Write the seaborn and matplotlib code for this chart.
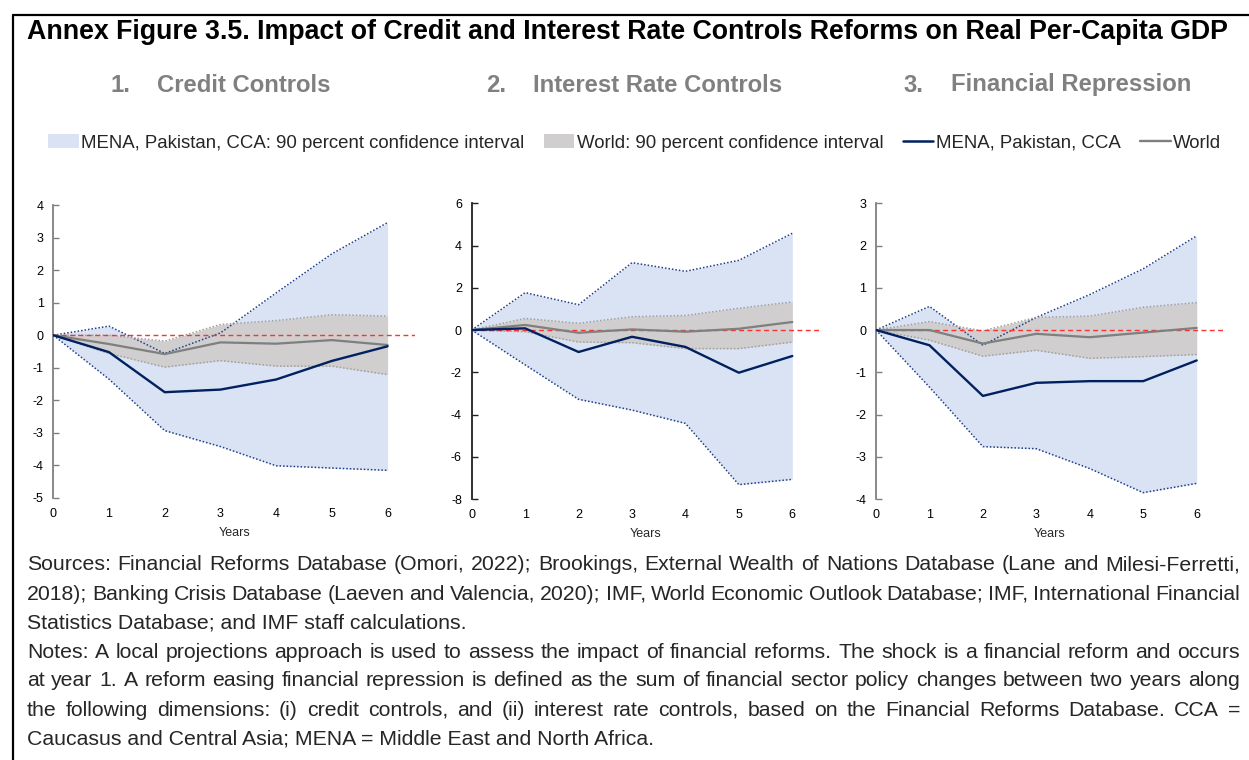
import numpy as np
import pandas as pd
import matplotlib
matplotlib.use("Agg")
import matplotlib.pyplot as plt
from matplotlib.lines import Line2D
from matplotlib.patches import Patch
import seaborn as sns

# ---------------- data ----------------
years = [0, 1, 2, 3, 4, 5, 6]

# 1. Credit controls
credit_mena = [0, -0.52, -1.75, -1.67, -1.36, -0.79, -0.34]
credit_mena_hi = [0, 0.28, -0.56, 0.07, 1.30, 2.50, 3.46]
credit_mena_lo = [0, -1.35, -2.93, -3.42, -4.01, -4.08, -4.15]
credit_world = [0, -0.27, -0.58, -0.22, -0.26, -0.15, -0.30]
credit_world_hi = [0, 0.00, -0.18, 0.33, 0.45, 0.63, 0.59]
credit_world_lo = [0, -0.56, -0.98, -0.78, -0.95, -0.95, -1.21]

# 2. Interest rate controls
rate_mena = [0, 0.08, -1.04, -0.32, -0.80, -2.02, -1.23]
rate_mena_hi = [0, 1.77, 1.20, 3.19, 2.78, 3.30, 4.58]
rate_mena_lo = [0, -1.65, -3.28, -3.79, -4.42, -7.32, -7.07]
rate_world = [0, 0.24, -0.13, 0.03, -0.08, 0.06, 0.38]
rate_world_hi = [0, 0.55, 0.32, 0.63, 0.69, 1.03, 1.33]
rate_world_lo = [0, -0.08, -0.57, -0.60, -0.88, -0.88, -0.57]

# 3. Financial repression
repr_mena = [0, -0.36, -1.56, -1.25, -1.21, -1.21, -0.72]
repr_mena_hi = [0, 0.56, -0.36, 0.30, 0.84, 1.45, 2.23]
repr_mena_lo = [0, -1.35, -2.76, -2.81, -3.28, -3.85, -3.63]
repr_world = [0, 0.00, -0.32, -0.09, -0.17, -0.06, 0.05]
repr_world_hi = [0, 0.20, -0.02, 0.30, 0.33, 0.54, 0.65]
repr_world_lo = [0, -0.24, -0.62, -0.48, -0.67, -0.63, -0.58]

panel_numbers = ["1.", "2.", "3."]
panel_titles = ["Credit Controls", "Interest Rate Controls", "Financial Repression"]
y_limits = [(-5, 4), (-8, 6), (-4, 3)]
y_steps = [1, 2, 1]

legend_labels = ["MENA, Pakistan, CCA: 90 percent confidence interval",
                 "World: 90 percent confidence interval",
                 "MENA, Pakistan, CCA", "World"]

title_text = ("Annex Figure 3.5. Impact of Credit and Interest Rate Controls "
              "Reforms on Real Per-Capita GDP")

note_lines = [
    ("Sources: Financial Reforms Database (Omori, 2022); Brookings, External Wealth of "
     "Nations Database (Lane and Milesi-Ferretti,", True),
    ("2018); Banking Crisis Database (Laeven and Valencia, 2020); IMF, World Economic "
     "Outlook Database; IMF, International Financial", True),
    ("Statistics Database; and IMF staff calculations.", False),
    ("Notes: A local projections approach is used to assess the impact of financial "
     "reforms. The shock is a financial reform and occurs", True),
    ("at year 1. A reform easing financial repression is defined as the sum of financial "
     "sector policy changes between two years along", True),
    ("the following dimensions: (i) credit controls, and (ii) interest rate controls, "
     "based on the Financial Reforms Database. CCA =", True),
    ("Caucasus and Central Asia; MENA = Middle East and North Africa.", False),
]

# ---------------- style ----------------
sns.set_theme(style="white")
plt.rcParams["font.family"] = ["Liberation Sans", "DejaVu Sans"]

NAVY = "#002060"
NAVY_DOT = "#1F3F8A"
GRAY_LINE = "#7F7F7F"
GRAY_DOT = "#A0A0A0"
BLUE_FILL = "#DAE3F3"
GRAY_FILL = "#D0CECE"
SUBTITLE_GRAY = "#808080"

W, H = 1249, 760
fig = plt.figure(figsize=(W / 100, H / 100), dpi=100)
renderer = fig.canvas.get_renderer()


def fx(px):
    return px / W


def fy(py):
    return 1 - py / H


def fit_width(text_artist, target_px):
    """Scale a text's font size so that it spans target_px pixels."""
    size = text_artist.get_fontsize()
    width = text_artist.get_window_extent(renderer).width
    text_artist.set_fontsize(size * target_px / width)
    return text_artist.get_fontsize()


# axes boxes in pixels: left, top, right, bottom
boxes = [(53.3, 205.0, 415.4, 498.0),
         (471.7, 203.3, 819.0, 499.0),
         (876.0, 203.3, 1223.4, 499.0)]

series = [
    (credit_mena, credit_mena_lo, credit_mena_hi, credit_world, credit_world_lo, credit_world_hi),
    (rate_mena, rate_mena_lo, rate_mena_hi, rate_world, rate_world_lo, rate_world_hi),
    (repr_mena, repr_mena_lo, repr_mena_hi, repr_world, repr_world_lo, repr_world_hi),
]
spine_colors = ["#808080", "#202020", "#808080"]

for i, (box, data) in enumerate(zip(boxes, series)):
    l, t, r, b = box
    ax = fig.add_axes([fx(l), fy(b), fx(r - l), (b - t) / H])
    mena, mena_lo, mena_hi, world, world_lo, world_hi = data
    df = pd.DataFrame({"year": years, "mena": mena, "world": world})

    ax.fill_between(years, mena_lo, mena_hi, color=BLUE_FILL, lw=0, zorder=1)
    ax.fill_between(years, world_lo, world_hi, color=GRAY_FILL, lw=0, zorder=2)
    for arr in (mena_lo, mena_hi):
        ax.plot(years, arr, color=NAVY_DOT, lw=1.1, ls=(0, (1, 1.3)), zorder=3)
    for arr in (world_lo, world_hi):
        ax.plot(years, arr, color=GRAY_DOT, lw=1.1, ls=(0, (1, 1.3)), zorder=3)
    ax.axhline(0, color="#FF3030", lw=1.0, ls=(0, (3.5, 2.5)), zorder=4)
    sns.lineplot(data=df, x="year", y="world", ax=ax, color=GRAY_LINE, lw=1.6, zorder=5)
    sns.lineplot(data=df, x="year", y="mena", ax=ax, color=NAVY, lw=1.7, zorder=6)

    lo, hi = y_limits[i]
    yt = np.arange(lo, hi + 0.01, y_steps[i])
    ax.set_xlim(0, 6.5)
    ax.set_ylim(lo, hi)
    ax.set_xticks(years)
    ax.set_yticks(yt)
    ax.set_xticklabels([str(v) for v in years])
    ax.set_yticklabels([str(int(v)) for v in yt])
    ax.tick_params(axis="x", length=0, pad=7, labelsize=9, colors="#000000")
    ax.tick_params(axis="y", direction="in", length=4, width=1, color=spine_colors[i],
                   pad=7, labelsize=9, labelcolor="#000000", left=True)
    for side in ("top", "right", "bottom"):
        ax.spines[side].set_visible(False)
    ax.spines["left"].set_color(spine_colors[i])
    ax.spines["left"].set_linewidth(1.3)
    ax.set_xlabel("Years", fontsize=9, labelpad=5)
    ax.set_ylabel("")
    ax.patch.set_alpha(0)

# ---------------- titles ----------------
title = fig.text(fx(27), fy(32), title_text, fontsize=12, fontweight="bold",
                 ha="left", va="center", color="#000000")
fit_width(title, 1198)

sub_pos = [(110, 157), (486, 533), (903, 951)]
for (xn, xt), num, ttl in zip(sub_pos, panel_numbers, panel_titles):
    fig.text(fx(xn), fy(85), num, fontsize=17.2, fontweight="bold",
             color=SUBTITLE_GRAY, ha="left", va="center")
    fig.text(fx(xt), fy(85), ttl, fontsize=17.2, fontweight="bold",
             color=SUBTITLE_GRAY, ha="left", va="center")

# ---------------- legend ----------------
handles = [Patch(facecolor=BLUE_FILL, edgecolor="none"),
           Patch(facecolor=GRAY_FILL, edgecolor="none"),
           Line2D([], [], color=NAVY, lw=1.8),
           Line2D([], [], color=GRAY_LINE, lw=1.7)]
fig.legend(handles, legend_labels, loc="center", bbox_to_anchor=(fx(634.5), fy(143)),
           ncol=4, frameon=False, fontsize=13.4, handlelength=1.65, handleheight=0.75,
           handletextpad=0.12, columnspacing=1.05, borderaxespad=0, borderpad=0)

# ---------------- frame ----------------
fig.add_artist(Line2D([fx(13), fx(13)], [fy(15), 0], color="black", lw=1.6))
fig.add_artist(Line2D([fx(13), 1], [fy(15), fy(15)], color="black", lw=1.6))

# ---------------- notes (justified) ----------------
x_left, x_right = 27, 1240
probe = fig.text(0, 0, note_lines[0][0], fontsize=12)
note_size = fit_width(probe, x_right - x_left - 6)
probe.remove()

for k, (line, justify) in enumerate(note_lines):
    y = fy(565 + 29 * k)
    if not justify:
        fig.text(fx(x_left), y, line, fontsize=note_size, ha="left", va="center")
        continue
    words = line.split(" ")
    arts = [fig.text(0, y, w, fontsize=note_size, ha="left", va="center") for w in words]
    widths = [a.get_window_extent(renderer).width for a in arts]
    gap = (x_right - x_left - sum(widths)) / (len(words) - 1)
    xpos = x_left
    for a, w in zip(arts, widths):
        a.set_x(fx(xpos))
        xpos += w + gap

fig.savefig("out.png", dpi=100)
